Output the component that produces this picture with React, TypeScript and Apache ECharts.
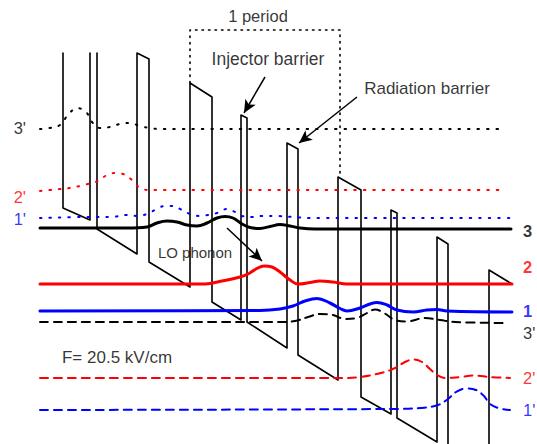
import React, { useEffect, useRef } from "react";
import * as echarts from "echarts";

// Position (arbitrary distance units) and energy (arbitrary units, downward axis)
const X_MAX = 537;
const Y_MAX = 444;

// Conduction band profile segments
const bandLeft = [[63, 53], [63, 208], [90, 220], [90, 53]];
const bandMain = [
  [97, 53], [97, 229], [137, 254], [137, 53], [149, 59], [149, 262], [190, 287], [190, 83],
  [212, 97], [212, 302], [241, 320], [241, 115], [247, 118], [247, 322], [287, 348], [287, 143],
  [298, 149], [298, 355], [338, 380], [338, 177], [361, 190], [361, 397], [391, 414], [391, 210],
  [397, 213], [397, 418], [437, 442], [437, 237], [448, 244], [448, 444],
];
const bandRight = [[489, 444], [489, 270], [512, 284]];

// Upper-period states (dotted)
const state3pUp = [[40, 129], [50, 128], [60, 125], [68, 115], [77, 108], [86, 112], [92, 122], [100, 128], [110, 127], [120, 124], [130, 123], [140, 126], [150, 128], [160, 129], [505, 129]];
const state2pUp = [[40, 191], [50, 190], [60, 189], [70, 188], [80, 186], [88, 184], [98, 181], [107, 175], [115, 173], [123, 174], [132, 180], [140, 188], [150, 190], [505, 190]];
const state1pUp = [[40, 218], [90, 217], [110, 217], [128, 215], [137, 216], [147, 214], [155, 210], [165, 206], [173, 206], [182, 210], [190, 214], [200, 216], [208, 215], [217, 213], [227, 209], [235, 212], [242, 216], [252, 217], [262, 216], [275, 216], [293, 217], [310, 218], [511, 218]];

// Current-period states (solid)
const state3 = [[40, 228], [93, 228], [127, 228], [147, 227], [157, 223], [167, 221], [177, 222], [187, 225], [197, 226], [207, 223], [217, 218], [225, 216.5], [233, 218], [242, 224], [250, 227.5], [260, 228.5], [270, 226.5], [280, 224.5], [290, 226], [300, 228], [315, 229], [511, 229]];
const state2 = [[40, 284], [205, 284], [222, 281], [240, 277], [248, 274], [256, 269], [264, 266], [272, 267], [280, 272], [290, 280], [298, 284], [310, 282.5], [320, 281], [333, 282], [347, 284], [512, 284]];
const state1 = [[40, 311], [260, 310.5], [280, 309], [293, 306], [305, 301], [317, 298.5], [330, 303], [340, 308.5], [347, 311], [360, 308], [370, 304], [377, 302.5], [387, 305], [397, 310], [413, 312], [427, 310], [437, 309.5], [447, 311], [512, 312]];

// Lower-period states (dashed)
const state3pLow = [[40, 322], [280, 322], [295, 321], [308, 317], [320, 314], [333, 315], [345, 319], [357, 318], [367, 313], [375, 309.5], [384, 313], [395, 320], [407, 321.5], [425, 318], [440, 320], [455, 322], [507, 323]];
const state2pLow = [[40, 378], [340, 378], [360, 377], [383, 372.5], [395, 368], [405, 362], [413, 359.5], [422, 362], [430, 369], [437, 375], [445, 378], [460, 377], [475, 375.5], [490, 377], [510, 378]];
const state1pLow = [[40, 410], [390, 409], [420, 408], [438, 405], [448, 399], [456, 392], [466, 388.5], [476, 390], [484, 396], [490, 404], [500, 408.5], [510, 410]];

// One-period box
const periodBox = [[190, 83], [190, 30], [340, 30], [340, 177]];

// Arrows [from, to]
const arrows = [
  [[265, 77], [244, 113]],
  [[357, 97], [299, 143]],
  [[227, 228], [262, 261]],
];

const FONT = "'Liberation Sans', Arial, Helvetica, sans-serif";
const BLACK = "#000000";
const RED = "#ff0000";
const BLUE = "#0000ff";

// Text annotations
const notes = [
  { text: "1 period", x: 258, y: 16, size: 16.5, color: BLACK, align: "center", bold: false },
  { text: "Injector barrier", x: 268, y: 59, size: 17.5, color: BLACK, align: "center", bold: false },
  { text: "Radiation barrier", x: 427, y: 88, size: 17, color: BLACK, align: "center", bold: false },
  { text: "LO phonon", x: 195, y: 252, size: 15, color: BLACK, align: "center", bold: false },
  { text: "F= 20.5 kV/cm", x: 117, y: 357, size: 17, color: BLACK, align: "center", bold: false },
  { text: "3'", x: 26, y: 128, size: 16.5, color: BLACK, align: "right", bold: false },
  { text: "2'", x: 26, y: 197, size: 16.5, color: RED, align: "right", bold: false },
  { text: "1'", x: 26, y: 219, size: 16.5, color: BLUE, align: "right", bold: false },
  { text: "3", x: 523, y: 231, size: 16.5, color: BLACK, align: "left", bold: true },
  { text: "2", x: 523, y: 267, size: 16.5, color: RED, align: "left", bold: true },
  { text: "1", x: 523, y: 311, size: 16.5, color: BLUE, align: "left", bold: true },
  { text: "3'", x: 523, y: 333, size: 16.5, color: BLACK, align: "left", bold: false },
  { text: "2'", x: 523, y: 378, size: 16.5, color: RED, align: "left", bold: false },
  { text: "1'", x: 523, y: 410, size: 16.5, color: BLUE, align: "left", bold: false },
];

function lineSeries(data: number[][], color: string, width: number, type: any, smooth: number | boolean, z = 2) {
  return {
    type: "line",
    data,
    showSymbol: false,
    symbol: "none",
    smooth,
    silent: true,
    z,
    lineStyle: { color, width, type, cap: "round", join: "round" },
  };
}

export default function App() {
  const ref = useRef<HTMLDivElement>(null);
  useEffect(() => {
    if (!ref.current) return;
    const chart = echarts.init(ref.current, null, { renderer: "svg" });
    const dotted = [1.5, 8];
    const dashed = [8, 6];
    const series: any[] = [
      lineSeries(bandLeft, BLACK, 1.6, "solid", false),
      lineSeries(bandMain, BLACK, 1.6, "solid", false),
      lineSeries(bandRight, BLACK, 1.6, "solid", false),
      lineSeries(periodBox, BLACK, 1.6, [1.5, 5], false),
      lineSeries(state3pUp, BLACK, 2, dotted, 0.4),
      lineSeries(state2pUp, RED, 2, dotted, 0.4),
      lineSeries(state1pUp, BLUE, 2, dotted, 0.4),
      lineSeries(state3, BLACK, 3, "solid", 0.4, 3),
      lineSeries(state2, RED, 3, "solid", 0.4, 3),
      lineSeries(state1, BLUE, 3, "solid", 0.4, 3),
      lineSeries(state3pLow, BLACK, 2, dashed, 0.4),
      lineSeries(state2pLow, RED, 2, dashed, 0.4),
      lineSeries(state1pLow, BLUE, 2, dashed, 0.4),
      {
        type: "line",
        data: [],
        silent: true,
        markLine: {
          silent: true,
          animation: false,
          symbol: ["none", "arrow"],
          symbolSize: [9, 13],
          label: { show: false },
          lineStyle: { color: BLACK, width: 1.5, type: "solid" },
          emphasis: { disabled: true },
          data: arrows.map(([a, b]) => [{ coord: a }, { coord: b }]),
        },
      },
      {
        type: "scatter",
        silent: true,
        symbolSize: 1,
        itemStyle: { color: "rgba(0,0,0,0)" },
        z: 5,
        data: notes.map((n) => ({
          value: [n.x, n.y],
          label: {
            show: true,
            position: "inside",
            formatter: n.text,
            color: n.color,
            fontSize: n.size,
            fontWeight: n.bold ? "bold" : "normal",
            fontFamily: FONT,
            align: n.align,
            verticalAlign: "middle",
          },
        })),
      },
    ];
    chart.setOption({
      animation: false,
      backgroundColor: "#ffffff",
      grid: { left: 0, right: 0, top: 0, bottom: 0, containLabel: false },
      xAxis: { type: "value", min: 0, max: X_MAX, show: false },
      yAxis: { type: "value", min: 0, max: Y_MAX, inverse: true, show: false },
      series,
    });
    return () => chart.dispose();
  }, []);
  return (
    <div
      ref={ref}
      style={{ position: "fixed", left: 0, top: 0, width: 537, height: 444, background: "#fff" }}
    />
  );
}
